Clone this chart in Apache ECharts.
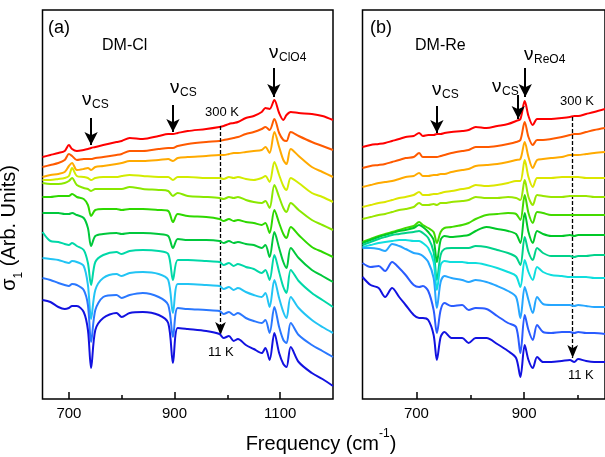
<!DOCTYPE html>
<html>
<head>
<meta charset="utf-8">
<script src="https://cdn.jsdelivr.net/npm/echarts@6/dist/echarts.min.js"></script>
<style>
  html, body { margin: 0; padding: 0; background: #fff; }
  #chart { width: 605px; height: 457px; }
</style>
</head>
<body>
<div id="chart"></div>
<script>
// ---- (a) DM-Cl : optical conductivity spectra, 300 K (top) down to 11 K (bottom), offset for clarity
const freqCl = [650, 665, 680, 692, 700, 706, 715, 728, 736, 742, 750, 765, 790, 800, 815, 840, 870, 888, 897, 906,
  925, 960, 985, 993, 1003, 1012, 1020, 1035, 1050, 1065, 1072, 1080, 1089, 1098, 1106, 1112, 1120, 1135, 1160, 1180, 1200];
const cl01 = [242, 244, 246, 248, 254, 250, 248, 249, 250, 251, 252, 254, 257, 258, 261, 260, 263, 265, 265, 266, 268, 270, 272, 273, 275, 276, 277, 281, 283, 287, 291, 290, 299, 286, 279, 284, 287, 286, 285, 283, 279];
const cl02 = [232, 234, 236, 239, 245, 243, 239, 240, 240, 240, 241, 242, 244, 245, 248, 248, 250, 251, 251, 253, 255, 257, 258, 259, 260, 261, 262, 265, 267, 270, 272, 269, 280, 266, 259, 258, 267, 263, 257, 253, 249];
const cl03 = [222, 224, 225, 227, 233, 236, 229, 230, 231, 229, 232, 233, 235, 236, 238, 238, 239, 240, 238, 241, 242, 243, 244, 244, 245, 246, 246, 247, 248, 249, 252, 246, 267, 252, 239, 235, 250, 243, 232, 227, 222];
const cl04 = [219, 219, 220, 221, 223, 231, 223, 222, 221, 219, 221, 222, 222, 223, 224, 223, 222, 222, 219, 222, 222, 221, 221, 220, 222, 221, 222, 220, 219, 221, 223, 217, 237, 224, 213, 209, 221, 216, 206, 202, 197];
const cl05 = [216, 215, 215, 216, 218, 221, 214, 211, 210, 208, 210, 210, 210, 210, 212, 210, 209, 208, 203, 206, 203, 202, 201, 200, 202, 201, 202, 199, 197, 196, 198, 191, 214, 202, 191, 187, 196, 189, 179, 174, 169];
const cl06 = [202, 202, 203, 203, 203, 205, 202, 200, 194, 183, 189, 190, 190, 189, 190, 190, 189, 188, 177, 185, 183, 182, 180, 178, 180, 178, 179, 177, 176, 174, 176, 166, 189, 176, 165, 161, 172, 164, 152, 147, 142];
const cl07 = [186, 186, 186, 185, 185, 186, 184, 181, 171, 153, 163, 165, 166, 165, 166, 166, 165, 163, 151, 160, 159, 159, 158, 156, 158, 156, 157, 155, 154, 151, 154, 142, 167, 151, 137, 131, 151, 141, 129, 123, 117];
const cl08 = [167, 158, 157, 155, 154, 156, 153, 149, 136, 114, 137, 144, 147, 145, 148, 149, 148, 145, 119, 139, 139, 138, 137, 134, 136, 133, 135, 132, 130, 126, 129, 119, 144, 127, 112, 106, 129, 118, 106, 99, 92];
const cl09 = [141, 140, 139, 137, 136, 138, 137, 133, 114, 80, 109, 121, 125, 123, 126, 127, 125, 119, 86, 115, 115, 114, 113, 110, 112, 109, 111, 107, 104, 102, 106, 92, 119, 101, 87, 81, 102, 91, 79, 72, 66];
const cl10 = [121, 119, 116, 114, 113, 115, 114, 109, 94, 57, 89, 102, 104, 101, 104, 106, 102, 94, 62, 91, 90, 89, 88, 85, 87, 84, 86, 81, 78, 76, 79, 66, 92, 72, 59, 56, 76, 64, 54, 48, 42];
const cl11 = [99, 97, 92, 90, 91, 93, 93, 87, 69, 31, 69, 81, 86, 82, 86, 87, 84, 76, 36, 71, 70, 68, 65, 61, 63, 58, 60, 54, 50, 46, 51, 39, 66, 46, 35, 32, 52, 37, 26, 20, 13];

// ---- (b) DM-Re : 300 K (top) down to 11 K (bottom)
const freqRe = [600, 615, 630, 642, 655, 668, 680, 695, 705, 712, 722, 732, 738, 745, 752, 765, 785, 797, 810, 830,
  850, 870, 885, 893, 901, 908, 916, 924, 935, 950, 970, 985, 993, 1000, 1015, 1030, 1050];
const re01 = [252, 254, 255, 256, 258, 260, 262, 263, 266, 263, 264, 264, 265, 265, 266, 267, 268, 269, 272, 271, 273, 275, 278, 280, 298, 283, 274, 280, 280, 280, 281, 282, 283, 283, 285, 287, 290];
const re02 = [231, 233, 234, 235, 237, 239, 241, 242, 246, 242, 242, 242, 242, 243, 244, 246, 248, 249, 252, 252, 253, 255, 257, 259, 277, 262, 254, 259, 259, 260, 262, 264, 265, 265, 267, 269, 271];
const re03 = [212, 214, 216, 217, 218, 220, 222, 223, 226, 223, 223, 224, 224, 225, 225, 227, 229, 230, 233, 234, 235, 237, 239, 240, 257, 242, 231, 239, 240, 241, 242, 244, 244, 244, 245, 246, 247];
const re04 = [192, 194, 196, 197, 199, 201, 202, 204, 207, 204, 204, 205, 205, 206, 207, 208, 210, 211, 214, 213, 214, 216, 218, 218, 239, 222, 212, 221, 221, 221, 222, 222, 222, 222, 221, 221, 221];
const re05 = [180, 182, 184, 185, 187, 189, 190, 192, 196, 194, 194, 195, 194, 196, 196, 197, 198, 199, 202, 201, 201, 202, 201, 199, 219, 202, 194, 204, 203, 202, 202, 203, 203, 203, 203, 202, 202];
const re06 = [157, 160, 163, 165, 167, 169, 171, 173, 177, 174, 171, 167, 156, 167, 171, 172, 174, 176, 180, 184, 185, 186, 185, 179, 204, 186, 176, 187, 186, 184, 184, 184, 184, 184, 184, 184, 184];
const re07 = [156, 159, 162, 164, 166, 168, 169, 171, 174, 172, 167, 159, 137, 159, 163, 162, 163, 164, 168, 172, 170, 168, 165, 156, 186, 167, 156, 168, 165, 163, 163, 164, 163, 164, 164, 164, 164];
const re08 = [154, 157, 160, 162, 164, 165, 166, 167, 168, 166, 161, 147, 119, 144, 150, 151, 151, 151, 153, 152, 149, 146, 142, 134, 162, 147, 139, 151, 146, 143, 143, 143, 142, 143, 143, 144, 144];
const re09 = [152, 154, 156, 157, 158, 159, 159, 158, 158, 156, 151, 137, 109, 134, 138, 137, 137, 136, 136, 134, 131, 127, 123, 112, 139, 127, 119, 132, 127, 124, 123, 122, 122, 122, 122, 121, 121];
const re10 = [151, 151, 150, 148, 155, 153, 150, 146, 145, 143, 137, 121, 91, 117, 123, 121, 119, 117, 119, 117, 113, 108, 102, 81, 112, 99, 86, 102, 95, 94, 94, 94, 93, 94, 93, 92, 92];
const re11 = [136, 132, 133, 128, 137, 131, 124, 114, 112, 113, 108, 89, 66, 89, 96, 93, 94, 89, 91, 90, 83, 76, 72, 46, 84, 69, 59, 74, 67, 66, 67, 67, 66, 67, 66, 66, 65];
const re12 = [122, 114, 111, 102, 111, 102, 94, 84, 81, 81, 79, 64, 39, 62, 67, 61, 61, 56, 61, 61, 55, 48, 41, 22, 54, 39, 31, 42, 37, 37, 38, 39, 37, 40, 38, 37, 37];

// axis tick values
const majorTicksCl = [700, 900, 1100];
const minorTicksCl = [800, 1000];
const majorTicksRe = [700, 900];
const minorTicksRe = [800, 1000];

// rainbow palettes, hot (red) to cold (blue)
const paletteCl = ['#ff0000', '#ff5a00', '#ffaa00', '#d2ec00', '#8ae800', '#2ed800', '#00c83c', '#00d8a8', '#22c4f4', '#2a78ff', '#1212e0'];
const paletteRe = ['#ff0000', '#ff5a00', '#ffaa00', '#dce600', '#9ae600', '#44da00', '#00c828', '#00d28a', '#10dede', '#26a6ff', '#2a5cff', '#1212e0'];

const spectraCl = [cl01, cl02, cl03, cl04, cl05, cl06, cl07, cl08, cl09, cl10, cl11];
const spectraRe = [re01, re02, re03, re04, re05, re06, re07, re08, re09, re10, re11, re12];

const FONT = '"Liberation Sans", Arial, sans-serif';

function pair(freq, vals) { return freq.map((f, i) => [f, vals[i]]); }

function xAxesFor(gridIndex, min, max, major, minor) {
  const base = { gridIndex, type: 'value', min, max, position: 'bottom',
    axisLine: { show: false }, splitLine: { show: false } };
  return [
    Object.assign({}, base, {
      axisTick: { show: true, inside: true, length: 7, customValues: major, lineStyle: { color: '#000', width: 1.5 } },
      axisLabel: { show: true, customValues: major, color: '#000', fontSize: 15, fontFamily: FONT, margin: 7,
        formatter: v => String(v) }
    }),
    Object.assign({}, base, {
      axisTick: { show: true, inside: true, length: 4, customValues: minor, lineStyle: { color: '#000', width: 1.5 } },
      axisLabel: { show: false }
    })
  ];
}

const arrowLine = { color: '#000', width: 2, type: 'solid' };
const dashLine = { color: '#000', width: 1.3, type: [4, 2] };

function arrowMark(items, style, size) {
  return {
    silent: true, animation: false,
    symbol: ['none', 'arrow'], symbolSize: size,
    label: { show: false }, lineStyle: style,
    emphasis: { disabled: true },
    data: items.map(([x, y0, y1]) => [{ coord: [x, y0] }, { coord: [x, y1] }])
  };
}

function spectrumSeries(vals, i, freq, axisIndex, palette) {
  return {
    type: 'line', xAxisIndex: axisIndex, yAxisIndex: axisIndex === 0 ? 0 : 1, data: pair(freq, vals),
    showSymbol: false, smooth: 0.3, lineStyle: { color: palette[i], width: 2 }, itemStyle: { color: palette[i] },
    emphasis: { disabled: true }, z: 2 + i
  };
}

const series = [];
spectraCl.forEach((vals, i) => {
  const s = spectrumSeries(vals, i, freqCl, 0, paletteCl);
  if (i === 0) s.markLine = arrowMark([[742, 281, 254], [897, 294, 267], [1088, 331, 302]], arrowLine, [10, 13]);
  if (i === 1) s.markLine = arrowMark([[987, 273, 64]], dashLine, [8, 13]);
  series.push(s);
});
spectraRe.forEach((vals, i) => {
  const s = spectrumSeries(vals, i, freqRe, 2, paletteRe);
  if (i === 0) s.markLine = arrowMark([[738, 293, 266], [889, 304, 280], [902, 331, 302]], arrowLine, [10, 13]);
  if (i === 1) s.markLine = arrowMark([[990, 282, 41]], dashLine, [8, 13]);
  series.push(s);
});

function txt(x, y, text, size, extra) {
  return Object.assign({ type: 'text', x, y, silent: true, z: 100,
    style: { text, fontSize: size, fontFamily: FONT, fill: '#000' } }, extra || {});
}

// ν with a subscript
function nu(x, y, sub) {
  return [txt(x, y, 'ν', 19), txt(x + 10, y + 9, sub, 12)];
}

const graphics = [
  txt(48, 19, '(a)', 18),
  txt(102, 38, 'DM-Cl', 16),
  ...nu(82, 90, 'CS'),
  ...nu(170, 78, 'CS'),
  ...nu(269, 43, 'ClO4'),
  txt(205, 106, '300 K', 13),
  txt(208, 346, '11 K', 13),

  txt(370, 19, '(b)', 18),
  txt(415, 38, 'DM-Re', 16),
  ...nu(432, 80, 'CS'),
  ...nu(492, 77, 'CS'),
  ...nu(524, 45, 'ReO4'),
  txt(560, 95, '300 K', 13),
  txt(568, 369, '11 K', 13),

  // axis titles
  {
    type: 'text', x: 12, y: 228, rotation: Math.PI / 2, silent: true, z: 100,
    style: {
      text: '{b|σ}{s|1}{b| (Arb. Units)}', align: 'center', verticalAlign: 'middle', fontFamily: FONT,
      rich: {
        b: { fontSize: 20, fontFamily: FONT, fill: '#000', lineHeight: 26, verticalAlign: 'top' },
        s: { fontSize: 12, fontFamily: FONT, fill: '#000', lineHeight: 26, verticalAlign: 'bottom' }
      }
    }
  },
  {
    type: 'text', x: 321, y: 441, silent: true, z: 100,
    style: {
      text: '{b|Frequency (cm}{s|-1}{b|)}', align: 'center', verticalAlign: 'middle', fontFamily: FONT,
      rich: {
        b: { fontSize: 20, fontFamily: FONT, fill: '#000', lineHeight: 26, verticalAlign: 'bottom' },
        s: { fontSize: 12, fontFamily: FONT, fill: '#000', lineHeight: 26, verticalAlign: 'top' }
      }
    }
  }
];

const chart = echarts.init(document.getElementById('chart'), null, { renderer: 'canvas' });
chart.setOption({
  animation: false,
  backgroundColor: '#fff',
  grid: [
    { left: 42.5, top: 10, width: 290.5, height: 389, show: true, borderColor: '#000', borderWidth: 1.5, backgroundColor: 'transparent' },
    { left: 362.5, top: 10, width: 245.5, height: 389, show: true, borderColor: '#000', borderWidth: 1.5, backgroundColor: 'transparent' }
  ],
  xAxis: [
    ...xAxesFor(0, 650, 1200, majorTicksCl, minorTicksCl),
    ...xAxesFor(1, 600, 1050, majorTicksRe, minorTicksRe)
  ],
  yAxis: [
    { gridIndex: 0, type: 'value', min: 0, max: 389, show: false },
    { gridIndex: 1, type: 'value', min: 0, max: 389, show: false }
  ],
  series,
  graphic: graphics
});
</script>
</body>
</html>
